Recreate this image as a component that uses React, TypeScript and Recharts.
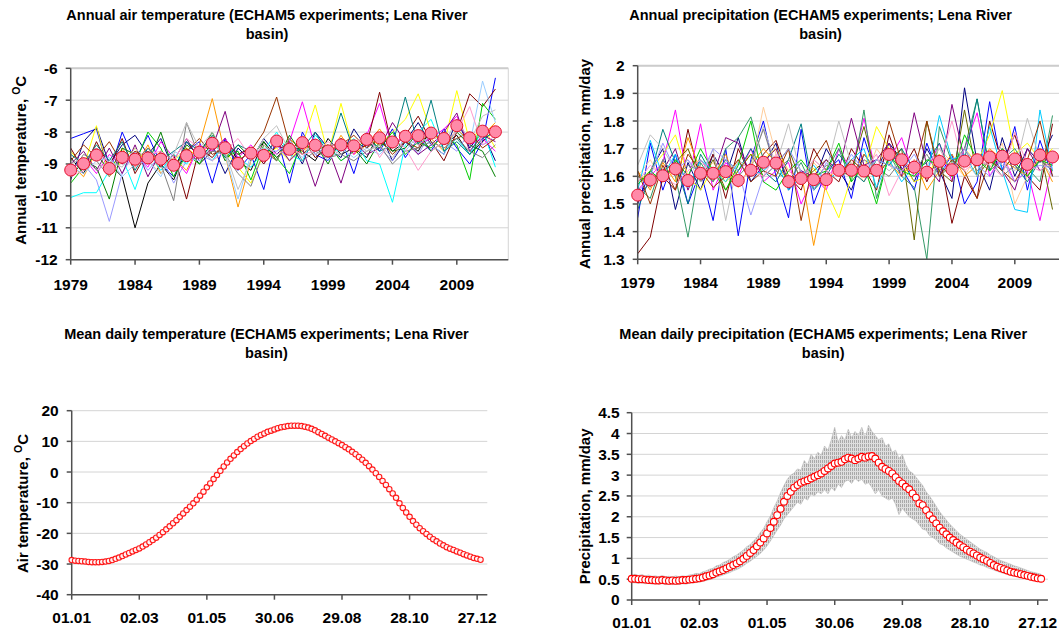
import React from 'react';
import { ComposedChart, Line, Area, XAxis, YAxis, CartesianGrid, ReferenceLine } from 'recharts';

const FONT = '"Liberation Sans", Arial, Helvetica, sans-serif';

// ---------- Annual panels ----------
const FIRST_YEAR = 1979;
const YEAR_TICKS = [1979, 1984, 1989, 1994, 1999, 2004, 2009];

const TEMP_TICKS = [-12, -11, -10, -9, -8, -7, -6];
const PREC_TICKS = [1.3, 1.4, 1.5, 1.6, 1.7, 1.8, 1.9, 2];

const TEMP_MEAN = [-9.19, -8.99, -8.72, -9.14, -8.79, -8.85, -8.81, -8.85, -9.04, -8.74,
  -8.63, -8.35, -8.49, -8.98, -8.66, -8.73, -8.28, -8.54, -8.33, -8.41,
  -8.59, -8.40, -8.43, -8.23, -8.18, -8.31, -8.13, -8.11, -8.03, -8.20,
  -7.80, -8.18, -7.97, -7.99];

const T01 = [-8.2, -8.05, -7.9, -9.3, -8.0, -8.9, -8.1, -9.0, -9.4, -8.6, -8.3, -9.6, -8.2, -9.2, -8.7, -9.8, -8.1, -9.6, -8.0, -8.7, -8.9, -8.2, -9.3, -8.0, -8.6, -7.9, -8.8, -8.2, -8.6, -7.9, -8.5, -9.0, -8.3, -6.3];
const T02 = [-9.5, -8.3, -7.85, -9.0, -8.4, -8.1, -8.7, -8.2, -9.2, -8.3, -8.8, -8.4, -9.3, -8.5, -8.9, -8.2, -8.7, -8.3, -9.0, -8.0, -8.5, -8.8, -7.9, -8.5, -8.0, -8.9, -8.3, -7.7, -8.4, -8.7, -7.6, -8.5, -8.0, -8.9];
const T03 = [-8.8, -9.3, -8.5, -9.0, -9.4, -11.0, -9.6, -9.0, -9.5, -8.5, -9.0, -8.6, -8.2, -8.9, -9.2, -8.3, -8.8, -8.4, -8.6, -8.9, -8.2, -8.7, -8.5, -8.8, -8.0, -8.6, -8.3, -8.6, -7.9, -8.4, -8.1, -8.7, -8.3, -7.9];
const T04 = [-9.0, -9.4, -8.6, -9.3, -8.5, -9.1, -8.4, -9.3, -8.8, -9.2, -8.4, -6.95, -8.7, -10.35, -8.9, -8.5, -8.9, -8.2, -8.6, -8.3, -8.8, -8.1, -8.7, -8.4, -7.9, -8.5, -8.0, -8.4, -8.2, -8.6, -7.9, -8.3, -8.1, -7.7];
const T05 = [-9.3, -9.0, -9.5, -10.8, -9.3, -8.6, -9.2, -8.7, -9.6, -8.9, -8.7, -8.9, -8.4, -8.7, -8.5, -9.0, -8.4, -8.9, -8.1, -8.7, -8.4, -8.9, -8.6, -8.3, -8.5, -8.9, -8.1, -8.7, -8.0, -8.3, -8.6, -8.0, -8.4, -8.2];
const T06 = [-10.05, -9.9, -9.9, -9.2, -8.8, -9.8, -8.6, -9.2, -8.7, -9.0, -8.5, -8.9, -8.3, -8.8, -9.1, -8.6, -8.0, -8.7, -8.9, -8.1, -8.5, -8.6, -8.2, -8.9, -9.0, -10.2, -8.4, -8.0, -7.6, -8.6, -8.2, -8.7, -7.9, -9.1];
const T07 = [-8.6, -9.1, -7.8, -9.4, -8.9, -8.5, -9.0, -8.6, -8.9, -8.5, -8.8, -8.2, -8.6, -9.1, -9.6, -8.7, -8.5, -8.9, -8.4, -7.15, -8.7, -7.1, -8.6, -8.2, -8.4, -8.0, -7.6, -6.8, -8.0, -8.4, -6.7, -8.3, -7.8, -8.5];
const T08 = [-9.2, -8.8, -9.3, -8.7, -9.0, -8.7, -9.1, -8.3, -8.8, -9.3, -8.4, -8.6, -8.2, -8.8, -8.4, -8.9, -8.6, -8.3, -7.05, -8.5, -8.8, -8.3, -8.7, -8.1, -7.1, -8.5, -8.0, -8.4, -8.2, -7.9, -7.5, -8.4, -8.2, -8.6];
const T09 = [-8.5, -9.2, -8.3, -9.1, -8.2, -9.3, -8.6, -9.1, -8.7, -10.1, -8.5, -8.8, -8.3, -8.7, -8.5, -9.0, -8.4, -8.6, -8.2, -8.8, -8.5, -8.3, -8.6, -8.4, -6.75, -8.5, -8.1, -7.5, -8.3, -8.9, -8.0, -6.8, -7.2, -6.65];
const T10 = [-9.6, -9.1, -8.7, -9.2, -8.6, -9.0, -8.0, -8.5, -9.4, -8.7, -9.0, -8.3, -8.8, -8.6, -9.5, -8.4, -8.8, -9.3, -8.3, -8.6, -8.4, -8.9, -8.6, -8.2, -8.5, -8.0, -8.7, -8.3, -8.5, -8.1, -8.4, -9.5, -7.1, -7.6];
const T11 = [-9.4, -8.9, -9.1, -10.1, -8.5, -8.7, -9.0, -8.0, -9.2, -8.4, -8.7, -8.0, -8.9, -8.4, -8.8, -8.3, -8.9, -8.1, -8.7, -8.4, -9.0, -8.2, -8.5, -9.0, -8.3, -8.6, -8.5, -8.0, -8.6, -8.3, -8.0, -8.4, -8.6, -9.4];
const T12 = [-9.0, -8.6, -9.2, -8.5, -9.3, -8.4, -9.4, -8.6, -8.9, -8.2, -8.9, -8.5, -7.35, -9.0, -8.5, -8.7, -8.3, -8.9, -8.5, -9.7, -8.5, -9.6, -8.3, -8.7, -8.5, -7.7, -8.3, -8.7, -8.4, -8.0, -7.4, -8.6, -8.1, -8.3];
const T13 = [-8.9, -8.4, -8.8, -8.3, -9.0, -8.6, -8.8, -8.7, -9.1, -8.6, -8.2, -8.7, -8.5, -8.9, -8.6, -8.0, -6.9, -8.4, -8.7, -8.3, -8.6, -8.4, -8.1, -8.5, -8.2, -8.7, -8.3, -8.5, -7.9, -8.4, -8.2, -8.0, -8.5, -8.2];
const T14 = [-9.1, -9.3, -8.9, -8.8, -9.4, -9.0, -8.9, -9.4, -8.6, -8.8, -8.9, -8.4, -8.7, -10.1, -8.7, -8.5, -8.6, -8.4, -8.8, -8.2, -8.9, -8.5, -8.8, -8.5, -8.7, -8.3, -8.6, -8.1, -8.4, -8.7, -7.9, -8.4, -6.4, -7.7];
const T15 = [-8.7, -9.0, -8.4, -8.9, -8.3, -9.2, -8.5, -8.9, -8.6, -8.3, -8.6, -8.1, -8.8, -8.4, -8.6, -8.8, -8.2, -8.7, -8.5, -8.0, -8.7, -7.4, -8.6, -8.3, -8.6, -8.4, -6.9, -8.4, -7.0, -8.6, -8.3, -8.7, -8.2, -8.0];
const T16 = [-9.3, -8.7, -8.9, -9.4, -8.7, -8.9, -8.5, -9.0, -10.15, -7.7, -8.8, -8.6, -8.7, -9.3, -9.7, -8.6, -8.9, -8.2, -8.9, -8.6, -8.8, -8.7, -8.9, -8.6, -8.4, -9.0, -8.6, -8.5, -8.3, -8.5, -8.2, -8.6, -8.8, -8.4];
const T17 = [-9.4, -9.2, -8.5, -9.0, -8.6, -9.1, -8.7, -8.6, -8.9, -8.2, -8.5, -8.9, -8.6, -8.2, -8.8, -8.4, -8.7, -8.5, -8.7, -8.6, -8.3, -8.6, -8.4, -8.0, -8.8, -8.2, -8.5, -9.2, -8.6, -8.3, -8.0, -7.2, -8.4, -8.1];
const T18 = [-9.0, -8.8, -9.2, -8.9, -9.1, -8.5, -8.9, -9.3, -8.7, -7.7, -8.5, -8.0, -8.6, -9.8, -8.9, -8.2, -7.8, -8.6, -8.4, -8.7, -8.5, -8.7, -8.3, -8.6, -8.4, -8.8, -8.2, -8.4, -8.1, -8.4, -7.6, -8.3, -7.5, -7.3];
const TEMP_MEMBERS = [T01, T02, T03, T04, T05, T06, T07, T08, T09, T10, T11, T12, T13, T14, T15, T16, T17, T18];
const TEMP_COLORS = ['#0000FF', '#000080', '#000000', '#FF9900', '#9999FF', '#00FFFF', '#FFFF00', '#FF00FF', '#800000',
  '#00CC00', '#008000', '#800080', '#993300', '#99CCFF', '#008080', '#808080', '#FF99CC', '#C0C0C0'];

const PREC_MEAN = [1.532, 1.587, 1.602, 1.627, 1.585, 1.611, 1.611, 1.617, 1.585, 1.622,
  1.651, 1.648, 1.581, 1.592, 1.588, 1.588, 1.622, 1.622, 1.619, 1.622,
  1.679, 1.660, 1.633, 1.615, 1.654, 1.624, 1.655, 1.660, 1.670, 1.673,
  1.663, 1.643, 1.677, 1.670];

const P01 = [1.45, 1.72, 1.55, 1.68, 1.50, 1.62, 1.44, 1.70, 1.385, 1.66, 1.80, 1.60, 1.45, 1.77, 1.50, 1.62, 1.66, 1.52, 1.74, 1.60, 1.70, 1.63, 1.55, 1.72, 1.60, 1.68, 1.50, 1.58, 1.87, 1.62, 1.78, 1.55, 1.73, 1.60];
const P02 = [1.50, 1.62, 1.70, 1.48, 1.65, 1.55, 1.68, 1.60, 1.74, 1.58, 1.64, 1.72, 1.55, 1.62, 1.58, 1.70, 1.62, 1.55, 1.68, 1.62, 1.72, 1.66, 1.58, 1.70, 1.62, 1.52, 1.92, 1.65, 1.55, 1.74, 1.60, 1.70, 1.65, 1.75];
const P03 = [1.32, 1.38, 1.60, 1.55, 1.77, 1.58, 1.68, 1.52, 1.70, 1.60, 1.68, 1.73, 1.60, 1.55, 1.70, 1.62, 1.58, 1.70, 1.63, 1.55, 1.75, 1.62, 1.70, 1.58, 1.68, 1.43, 1.60, 1.52, 1.80, 1.65, 1.75, 1.60, 1.55, 1.79];
const P04 = [1.55, 1.60, 1.65, 1.84, 1.58, 1.79, 1.55, 1.65, 1.60, 1.70, 1.58, 1.62, 1.65, 1.50, 1.60, 1.55, 1.70, 1.62, 1.81, 1.60, 1.66, 1.74, 1.60, 1.62, 1.72, 1.58, 1.70, 1.83, 1.60, 1.68, 1.58, 1.62, 1.44, 1.65];
const P05 = [1.60, 1.66, 1.58, 1.62, 1.70, 1.60, 1.65, 1.58, 1.66, 1.62, 1.85, 1.68, 1.60, 1.57, 1.65, 1.60, 1.62, 1.65, 1.58, 1.70, 1.64, 1.60, 1.66, 1.62, 1.70, 1.65, 1.60, 1.68, 1.63, 1.72, 1.50, 1.60, 1.68, 1.62];
const P06 = [1.58, 1.62, 1.68, 1.75, 1.60, 1.55, 1.63, 1.58, 1.62, 1.68, 1.66, 1.70, 1.62, 1.58, 1.63, 1.55, 1.45, 1.60, 1.62, 1.78, 1.70, 1.65, 1.58, 1.60, 1.68, 1.62, 1.70, 1.65, 1.75, 1.91, 1.68, 1.72, 1.66, 1.70];
const P07 = [1.56, 1.52, 1.66, 1.60, 1.38, 1.65, 1.58, 1.70, 1.74, 1.815, 1.66, 1.62, 1.58, 1.65, 1.55, 1.62, 1.70, 1.58, 1.84, 1.52, 1.68, 1.60, 1.56, 1.30, 1.78, 1.65, 1.70, 1.88, 1.62, 1.66, 1.70, 1.63, 1.58, 1.82];
const P08 = [1.62, 1.55, 1.65, 1.58, 1.74, 1.62, 1.60, 1.68, 1.56, 1.64, 1.70, 1.65, 1.58, 1.62, 1.35, 1.58, 1.64, 1.60, 1.68, 1.62, 1.65, 1.60, 1.66, 1.55, 1.62, 1.68, 1.60, 1.64, 1.70, 1.66, 1.63, 1.60, 1.67, 1.58];
const P09 = [1.60, 1.58, 1.62, 1.65, 1.70, 1.58, 1.66, 1.55, 1.62, 1.68, 1.60, 1.64, 1.70, 1.58, 1.62, 1.66, 1.60, 1.62, 1.78, 1.60, 1.66, 1.70, 1.37, 1.80, 1.62, 1.58, 1.84, 1.60, 1.66, 1.62, 1.68, 1.64, 1.70, 1.48];
const P10 = [1.52, 1.58, 1.62, 1.70, 1.55, 1.66, 1.60, 1.74, 1.72, 1.60, 1.65, 1.70, 1.58, 1.62, 1.60, 1.66, 1.62, 1.81, 1.64, 1.66, 1.72, 1.60, 1.83, 1.64, 1.58, 1.86, 1.66, 1.64, 1.68, 1.62, 1.55, 1.70, 1.62, 1.66];
const P11 = [1.48, 1.60, 1.77, 1.65, 1.50, 1.68, 1.60, 1.66, 1.62, 1.70, 1.62, 1.58, 1.66, 1.79, 1.55, 1.60, 1.68, 1.62, 1.58, 1.66, 1.64, 1.70, 1.62, 1.65, 1.72, 1.60, 1.66, 1.88, 1.62, 1.70, 1.64, 1.58, 1.66, 1.62];
const P12 = [1.55, 1.73, 1.60, 1.68, 1.56, 1.66, 1.62, 1.58, 1.65, 1.60, 1.62, 1.66, 1.55, 1.60, 1.64, 1.58, 1.62, 1.66, 1.70, 1.56, 1.66, 1.58, 1.64, 1.60, 1.82, 1.66, 1.68, 1.60, 1.78, 1.62, 1.48, 1.47, 1.84, 1.62];
const P13 = [1.64, 1.75, 1.70, 1.62, 1.66, 1.58, 1.70, 1.44, 1.66, 1.62, 1.78, 1.64, 1.79, 1.60, 1.66, 1.62, 1.80, 1.64, 1.60, 1.66, 1.62, 1.66, 1.60, 1.64, 1.70, 1.62, 1.66, 1.60, 1.68, 1.64, 1.62, 1.81, 1.66, 1.60];
const P14 = [1.60, 1.56, 1.66, 1.60, 1.64, 1.62, 1.58, 1.66, 1.60, 1.65, 1.77, 1.62, 1.66, 1.60, 1.58, 1.64, 1.62, 1.60, 1.66, 1.63, 1.60, 1.66, 1.62, 1.68, 1.60, 1.64, 1.70, 1.62, 1.66, 1.60, 1.64, 1.60, 1.66, 1.62];
const P15 = [1.57, 1.62, 1.58, 1.66, 1.60, 1.70, 1.62, 1.55, 1.64, 1.80, 1.58, 1.55, 1.62, 1.66, 1.60, 1.62, 1.72, 1.58, 1.64, 1.50, 1.68, 1.62, 1.60, 1.66, 1.64, 1.60, 1.75, 1.66, 1.62, 1.70, 1.65, 1.60, 1.66, 1.64];
const P16 = [1.62, 1.50, 1.64, 1.55, 1.68, 1.62, 1.56, 1.60, 1.66, 1.58, 1.62, 1.60, 1.70, 1.44, 1.66, 1.73, 1.60, 1.66, 1.62, 1.60, 1.80, 1.65, 1.62, 1.80, 1.60, 1.66, 1.62, 1.52, 1.66, 1.62, 1.58, 1.66, 1.80, 1.60];
const P17 = [1.54, 1.60, 1.72, 1.62, 1.66, 1.60, 1.70, 1.66, 1.62, 1.46, 1.60, 1.64, 1.70, 1.62, 1.55, 1.65, 1.60, 1.68, 1.62, 1.66, 1.64, 1.62, 1.68, 1.60, 1.64, 1.62, 1.70, 1.64, 1.60, 1.66, 1.58, 1.62, 1.64, 1.63];
const P18 = [1.58, 1.64, 1.60, 1.57, 1.62, 1.66, 1.60, 1.64, 1.58, 1.62, 1.60, 1.68, 1.62, 1.58, 1.66, 1.62, 1.60, 1.64, 1.62, 1.68, 1.53, 1.62, 1.66, 1.60, 1.64, 1.80, 1.62, 1.66, 1.64, 1.60, 1.76, 1.64, 1.62, 1.66];
const PREC_MEMBERS = [P01, P02, P03, P04, P05, P06, P07, P08, P09, P10, P11, P12, P13, P14, P15, P16, P17, P18];
const PREC_COLORS = ['#0000FF', '#000080', '#800000', '#FF00FF', '#FFCC99', '#FFFF00', '#339966', '#FF9900', '#666600',
  '#800080', '#008080', '#00CCFF', '#C0C0C0', '#808080', '#00CC00', '#993300', '#9999FF', '#FF99CC'];

// ---------- Daily panels (every 3rd day, starting 1 Jan) ----------
const DAY_STEP = 3;
const DAY_TICKS = [1, 61, 121, 181, 241, 301, 361];
const DAY_LABELS = ['01.01', '02.03', '01.05', '30.06', '29.08', '28.10', '27.12'];
const DTEMP_TICKS = [-40, -30, -20, -10, 0, 10, 20];
const DPREC_TICKS = [0, 0.5, 1, 1.5, 2, 2.5, 3, 3.5, 4, 4.5];

const DAILY_TEMP = [
  -28.7, -28.9, -29.0, -29.1, -29.2, -29.3, -29.4, -29.4, -29.4, -29.3,
  -29.2, -29.0, -28.7, -28.3, -27.9, -27.4, -26.9, -26.4, -25.9, -25.4,
  -24.9, -24.3, -23.6, -22.9, -22.2, -21.4, -20.5, -19.6, -18.7, -17.7,
  -16.7, -15.7, -14.6, -13.5, -12.4, -11.3, -10.2, -9.0, -7.7, -6.4,
  -5.0, -3.7, -2.3, -1.0, 0.4, 1.8, 3.1, 4.3, 5.4, 6.5,
  7.5, 8.4, 9.3, 10.1, 10.8, 11.5, 12.1, 12.6, 13.1, 13.5,
  13.9, 14.3, 14.6, 14.8, 15.0, 15.1, 15.1, 15.1, 15.0, 14.8,
  14.5, 14.1, 13.6, 13.0, 12.4, 11.8, 11.2, 10.6, 10.0, 9.4,
  8.8, 8.1, 7.4, 6.6, 5.8, 4.9, 4.0, 3.0, 1.9, 0.8,
  -0.4, -1.6, -2.9, -4.2, -5.6, -7.0, -8.4, -10.2, -11.7, -13.2,
  -14.6, -16.0, -17.2, -18.3, -19.3, -20.2, -21.1, -21.9, -22.6, -23.3,
  -23.9, -24.5, -25.0, -25.4, -25.9, -26.3, -26.8, -27.2, -27.6, -28.0,
  -28.3, -28.6];

const DAILY_PREC = [
  0.51, 0.51, 0.50, 0.50, 0.49, 0.48, 0.48, 0.47, 0.47, 0.48,
  0.47, 0.46, 0.47, 0.46, 0.47, 0.48, 0.48, 0.49, 0.50, 0.51,
  0.52, 0.54, 0.57, 0.59, 0.62, 0.66, 0.69, 0.72, 0.76, 0.80,
  0.84, 0.88, 0.93, 0.99, 1.06, 1.13, 1.20, 1.29, 1.38, 1.48,
  1.60, 1.73, 1.88, 2.04, 2.19, 2.36, 2.50, 2.60, 2.70, 2.76,
  2.82, 2.85, 2.88, 2.92, 2.96, 3.00, 3.04, 3.10, 3.16, 3.22,
  3.28, 3.30, 3.32, 3.38, 3.42, 3.40, 3.36, 3.40, 3.44, 3.42,
  3.45, 3.46, 3.40, 3.30, 3.20, 3.15, 3.10, 3.04, 2.95, 2.86,
  2.80, 2.72, 2.66, 2.56, 2.46, 2.32, 2.28, 2.16, 2.04, 1.94,
  1.84, 1.74, 1.65, 1.58, 1.50, 1.44, 1.38, 1.32, 1.27, 1.21,
  1.16, 1.12, 1.07, 1.02, 0.98, 0.94, 0.89, 0.84, 0.80, 0.77,
  0.74, 0.71, 0.68, 0.66, 0.64, 0.62, 0.60, 0.58, 0.56, 0.54,
  0.52, 0.51];

const PREC_LO = [
  0.42, 0.41, 0.40, 0.41, 0.39, 0.40, 0.38, 0.39, 0.38, 0.39,
  0.37, 0.38, 0.37, 0.38, 0.37, 0.39, 0.38, 0.40, 0.41, 0.42,
  0.43, 0.45, 0.47, 0.49, 0.51, 0.55, 0.57, 0.60, 0.63, 0.66,
  0.70, 0.73, 0.77, 0.82, 0.88, 0.93, 0.99, 1.05, 1.12, 1.20,
  1.30, 1.42, 1.55, 1.68, 1.80, 1.95, 2.05, 2.15, 2.25, 2.35,
  2.30, 2.45, 2.40, 2.55, 2.50, 2.60, 2.55, 2.65, 2.55, 2.70,
  2.62, 2.78, 2.70, 2.85, 2.88, 2.80, 2.92, 2.85, 2.90, 2.78,
  2.82, 2.70, 2.55, 2.65, 2.50, 2.45, 2.40, 2.45, 2.30, 2.05,
  2.20, 2.10, 2.00, 1.95, 1.90, 1.80, 1.70, 1.68, 1.55, 1.50,
  1.45, 1.35, 1.32, 1.25, 1.20, 1.15, 1.10, 1.05, 1.02, 0.98,
  0.95, 0.91, 0.88, 0.84, 0.82, 0.78, 0.75, 0.72, 0.69, 0.66,
  0.64, 0.62, 0.59, 0.57, 0.56, 0.54, 0.52, 0.50, 0.48, 0.47,
  0.45, 0.44];

const PREC_HI = [
  0.60, 0.62, 0.59, 0.61, 0.58, 0.60, 0.57, 0.58, 0.56, 0.59,
  0.56, 0.57, 0.55, 0.58, 0.56, 0.58, 0.57, 0.60, 0.61, 0.64,
  0.63, 0.68, 0.70, 0.74, 0.76, 0.82, 0.84, 0.90, 0.93, 0.98,
  1.04, 1.08, 1.14, 1.20, 1.28, 1.33, 1.42, 1.50, 1.62, 1.72,
  1.88, 2.02, 2.22, 2.38, 2.58, 2.75, 2.90, 3.00, 3.05, 3.15,
  3.12, 3.35, 3.25, 3.50, 3.40, 3.55, 3.48, 3.70, 3.60, 3.85,
  4.15, 3.80, 3.95, 3.85, 4.10, 3.90, 4.05, 3.95, 4.15, 3.90,
  4.20, 4.05, 3.95, 3.85, 3.90, 3.70, 3.75, 3.55, 3.60, 3.40,
  3.50, 3.25, 3.10, 3.05, 2.95, 2.85, 2.75, 2.60, 2.50, 2.38,
  2.25, 2.12, 2.02, 1.92, 1.82, 1.74, 1.66, 1.58, 1.52, 1.46,
  1.40, 1.34, 1.28, 1.22, 1.18, 1.14, 1.08, 1.04, 0.99, 0.95,
  0.92, 0.89, 0.86, 0.82, 0.80, 0.77, 0.74, 0.71, 0.68, 0.66,
  0.64, 0.62];

const TITLES = [
  ['Annual air temperature (ECHAM5 experiments; Lena River', 'basin)'],
  ['Annual precipitation (ECHAM5 experiments; Lena River', 'basin)'],
  ['Mean daily temperature (ECHAM5 experiments; Lena River', 'basin)'],
  ['Mean daily precipitation (ECHAM5 experiments; Lena River', 'basin)'],
];

// ---------- data tables ----------
const annualTemp = TEMP_MEAN.map((m, i) => {
  const row: any = { x: FIRST_YEAR + i, mean: m };
  TEMP_MEMBERS.forEach((arr, k) => { row['m' + k] = arr[i]; });
  return row;
});
const annualPrec = PREC_MEAN.map((m, i) => {
  const row: any = { x: FIRST_YEAR + i, mean: m };
  PREC_MEMBERS.forEach((arr, k) => { row['m' + k] = arr[i]; });
  return row;
});
const dailyTemp = DAILY_TEMP.map((v, i) => ({ x: 1 + i * DAY_STEP, v }));
const dailyPrec = DAILY_PREC.map((v, i) => ({ x: 1 + i * DAY_STEP, v, band: [PREC_LO[i], PREC_HI[i]] }));

const tickStyle = { fill: '#000', fontSize: 15.5, fontWeight: 700, fontFamily: FONT };
const axisStyle = { stroke: '#505050', strokeWidth: 1.5 };

type Box = { left: number; top: number; pl: number; pt: number; pr: number; pb: number };

function Panel(props: any) {
  const { box, data, xDomain, xTicks, xFmt, yDomain, yTicks, xMargin, yMargin, children } = props;
  const b: Box = box;
  const width = b.pr - b.left + 12;
  const height = b.pb - b.top + 45;
  return (
    <div style={{ position: 'absolute', left: b.left, top: b.top, width, height }}>
      <ComposedChart width={width} height={height} data={data}
        margin={{ top: b.pt - b.top, right: 12, bottom: 5, left: 0 }}>
        <defs>
          <pattern id="hatch" width="2" height="4" patternUnits="userSpaceOnUse">
            <rect width="2" height="4" fill="#dedede" />
            <rect width="1" height="3" fill="#a9a9a9" />
          </pattern>
        </defs>
        <CartesianGrid vertical={false} stroke="#d4d4d4" />
        <XAxis type="number" dataKey="x" domain={xDomain} ticks={xTicks} interval={0}
          tickFormatter={xFmt} tick={tickStyle} tickSize={5} tickMargin={xMargin}
          axisLine={axisStyle} tickLine={axisStyle} height={40} />
        <YAxis type="number" domain={yDomain} ticks={yTicks} interval={0}
          tick={tickStyle} tickSize={5} tickMargin={yMargin} width={b.pl - b.left}
          axisLine={axisStyle} tickLine={axisStyle} />
        {children}
      </ComposedChart>
    </div>
  );
}

function memberLines(colors: string[]) {
  return colors.map((c, k) => (
    <Line key={'m' + k} dataKey={'m' + k} stroke={c} strokeWidth={1} dot={false}
      isAnimationActive={false} />
  ));
}

const meanDot = { r: 6, fill: '#ff8aa8', stroke: '#e3102e', strokeWidth: 1 };
const dayFmt = (v: number) => { const i = DAY_TICKS.indexOf(v); return i >= 0 ? DAY_LABELS[i] : ''; };

function Texts() {
  const t: any = { fontFamily: FONT, fontWeight: 700, fontSize: 14.5, fill: '#000', textAnchor: 'middle' };
  const yl: any = { fontFamily: FONT, fontWeight: 700, fontSize: 15, fill: '#000', textAnchor: 'middle' };
  const pos = [[267, 20, 39], [820.6, 20, 39], [266.4, 339.4, 358.4], [823.2, 339.4, 358.4]];
  return (
    <svg width={1059} height={633} style={{ position: 'absolute', left: 0, top: 0, pointerEvents: 'none' }}>
      {TITLES.map((lines, i) => (
        <g key={i}>
          <text x={pos[i][0]} y={pos[i][1]} {...t}>{lines[0]}</text>
          <text x={pos[i][0]} y={pos[i][2]} {...t}>{lines[1]}</text>
        </g>
      ))}
      <text transform="translate(25.5,160.3) rotate(-90)" {...yl}>
        Annual temperature, <tspan fontSize={10.5} dy={-6}>O</tspan><tspan dy={6}>C</tspan>
      </text>
      <text transform="translate(589.5,163.9) rotate(-90)" {...yl}>Annual precipitation, mm/day</text>
      <text transform="translate(27.8,503.5) rotate(-90)" {...yl}>
        Air temperature, <tspan fontSize={10.5} dy={-6}>O</tspan><tspan dy={6}>C</tspan>
      </text>
      <text transform="translate(589.9,506.4) rotate(-90)" {...yl}>Precipitation, mm/day</text>
    </svg>
  );
}

export default function App() {
  return (
    <div style={{ position: 'absolute', left: 0, top: 0, width: 1059, height: 633, overflow: 'hidden', background: '#fff' }}>
      <Panel box={{ left: 0, top: 0, pl: 70.7, pt: 68.3, pr: 508.3, pb: 259.7 }} data={annualTemp}
        xDomain={[1979, 2013]} xTicks={YEAR_TICKS} yDomain={[-12, -6]} yTicks={TEMP_TICKS}
        xMargin={14} yMargin={8}>
        <ReferenceLine y={-6} stroke="#cccccc" strokeWidth={2} />
        <ReferenceLine x={2013} stroke="#d4d4d4" strokeWidth={1} />
        {memberLines(TEMP_COLORS)}
        <Line dataKey="mean" stroke="none" dot={meanDot} isAnimationActive={false} />
      </Panel>
      <Panel box={{ left: 540, top: 0, pl: 637.7, pt: 65.7, pr: 1065.1, pb: 259.3 }} data={annualPrec}
        xDomain={[1979, 2013]} xTicks={YEAR_TICKS} yDomain={[1.3, 2]} yTicks={PREC_TICKS}
        xMargin={13} yMargin={8}>
        <ReferenceLine y={2} stroke="#cccccc" strokeWidth={2} />
        {memberLines(PREC_COLORS)}
        <Line dataKey="mean" stroke="none" dot={meanDot} isAnimationActive={false} />
      </Panel>
      <Panel box={{ left: 0, top: 380, pl: 71.7, pt: 410.7, pr: 487.3, pb: 594.7 }} data={dailyTemp}
        xDomain={[1, 370]} xTicks={DAY_TICKS} xFmt={dayFmt} yDomain={[-40, 20]} yTicks={DTEMP_TICKS}
        xMargin={12} yMargin={8}>
        <Line dataKey="v" stroke="#ff0000" strokeWidth={2.5}
          dot={{ r: 2.7, fill: '#fff4f4', stroke: '#ff1a1a', strokeWidth: 1.1 }} isAnimationActive={false} />
      </Panel>
      <Panel box={{ left: 540, top: 380, pl: 631.7, pt: 412.7, pr: 1047.9, pb: 600 }} data={dailyPrec}
        xDomain={[1, 370]} xTicks={DAY_TICKS} xFmt={dayFmt} yDomain={[0, 4.5]} yTicks={DPREC_TICKS}
        xMargin={12} yMargin={7}>
        <Area dataKey="band" type="linear" stroke="#b8b8b8" strokeWidth={0.6} fill="url(#hatch)" fillOpacity={1}
          isAnimationActive={false} />
        <Line dataKey="v" stroke="#ff0000" strokeWidth={1}
          dot={{ r: 3.4, fill: '#ffffff', stroke: '#ff0000', strokeWidth: 1.1 }} isAnimationActive={false} />
      </Panel>
      <Texts />
    </div>
  );
}
